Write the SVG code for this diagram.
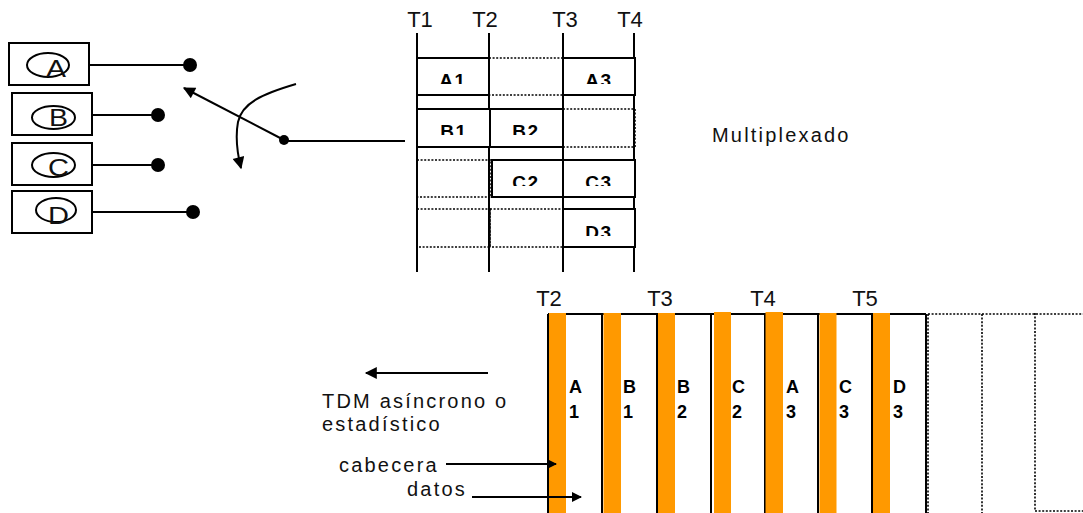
<svg xmlns="http://www.w3.org/2000/svg" width="1083" height="513" viewBox="0 0 1083 513">
<style>
.ln{stroke:#000;stroke-width:2;fill:none}
.dt{stroke:#000;stroke-width:1.6;fill:none;stroke-dasharray:2 1.6}
.bx{stroke:#000;stroke-width:2;fill:#fff}
.lbl{font-family:"Liberation Sans",Arial,sans-serif;font-size:20px;letter-spacing:2.2px;fill:#111}
.t{font-family:"Liberation Sans",Arial,sans-serif;font-size:22px;fill:#111;text-anchor:middle}
.big{font-family:"Liberation Sans",Arial,sans-serif;font-size:23px;fill:#111}
.cell{font-family:"Liberation Sans",Arial,sans-serif;font-size:19px;font-weight:bold;letter-spacing:1.5px;fill:#000;text-anchor:middle}
.slot{font-family:"Liberation Sans",Arial,sans-serif;font-size:18px;font-weight:bold;fill:#000}
.or{fill:#FF9900}
</style>
<defs>
<marker id="ah" viewBox="0 0 10 10" refX="9" refY="5" markerWidth="10" markerHeight="10" markerUnits="userSpaceOnUse" orient="auto"><path d="M0,0 L10,5 L0,10 z" fill="#000"/></marker>
<marker id="ahL" viewBox="0 0 10 10" refX="9" refY="5" markerWidth="16" markerHeight="12" markerUnits="userSpaceOnUse" orient="auto"><path d="M0,0 L10,5 L0,10 z" fill="#000"/></marker>
<clipPath id="cA"><rect x="417" y="58" width="220" height="26"/></clipPath>
<clipPath id="cB"><rect x="417" y="109" width="220" height="26"/></clipPath>
<clipPath id="cC"><rect x="417" y="160" width="220" height="26"/></clipPath>
<clipPath id="cD"><rect x="417" y="209" width="220" height="27"/></clipPath>
</defs>

<g id="source-A">
<rect class="bx" x="9" y="43" width="80" height="42"/>
<ellipse class="ln" cx="48" cy="65" rx="21" ry="12"/>
<text class="big" x="46" y="77" textLength="20" lengthAdjust="spacingAndGlyphs">A</text>
</g>
<g id="source-B">
<rect class="bx" x="12" y="93" width="80" height="42"/>
<ellipse class="ln" cx="53.5" cy="117.5" rx="21.5" ry="11.5"/>
<text class="big" x="49" y="126" textLength="19" lengthAdjust="spacingAndGlyphs">B</text>
</g>
<g id="source-C">
<rect class="bx" x="12" y="143" width="80" height="42"/>
<ellipse class="ln" cx="53.5" cy="165" rx="21.5" ry="12"/>
<text class="big" x="48" y="176" textLength="21" lengthAdjust="spacingAndGlyphs">C</text>
</g>
<g id="source-D">
<rect class="bx" x="12" y="191" width="80" height="42"/>
<ellipse class="ln" cx="56" cy="210" rx="20" ry="12"/>
<text class="big" x="48" y="224" textLength="21" lengthAdjust="spacingAndGlyphs">D</text>
</g>

<g id="switch">
<path class="ln" d="M89,65 H190 M92,115 H158 M92,165 H158 M92,212 H193"/>
<circle cx="190" cy="65" r="7"/>
<circle cx="158" cy="115" r="7"/>
<circle cx="158" cy="165" r="7"/>
<circle cx="193" cy="212" r="7"/>
<circle cx="284" cy="140" r="5"/>
</g>

<g id="sync-grid">
<text class="t" x="420" y="27">T1</text>
<text class="t" x="485" y="27">T2</text>
<text class="t" x="565" y="27">T3</text>
<text class="t" x="630" y="27">T4</text>
<path class="ln" d="M417,33 V272 M489,33 V272 M563,33 V272 M634,33 V272"/>
<rect class="bx" x="417" y="58" width="72" height="37"/>
<rect class="dt" x="489" y="58" width="74" height="37" fill="#fff"/>
<rect class="bx" x="563" y="58" width="72" height="37"/>
<rect class="bx" x="417" y="109" width="73" height="38"/>
<rect class="bx" x="490" y="109" width="73" height="38"/>
<rect class="dt" x="563" y="109" width="72" height="38" fill="#fff"/>
<rect class="dt" x="417" y="160" width="74" height="37" fill="#fff"/>
<rect class="bx" x="492" y="160" width="71" height="37"/>
<rect class="bx" x="563" y="160" width="72" height="37"/>
<rect class="dt" x="417" y="209" width="73" height="38" fill="#fff"/>
<rect class="dt" x="490" y="209" width="73" height="38" fill="#fff"/>
<rect class="bx" x="563" y="209" width="72" height="38"/>
<g clip-path="url(#cA)"><text class="cell" x="453" y="87">A1</text><text class="cell" x="599" y="87">A3</text></g>
<g clip-path="url(#cB)"><text class="cell" x="454" y="138">B1</text><text class="cell" x="526" y="138">B2</text></g>
<g clip-path="url(#cC)"><text class="cell" x="526" y="189">C2</text><text class="cell" x="599" y="189">C3</text></g>
<g clip-path="url(#cD)"><text class="cell" x="599" y="239">D3</text></g>
</g>

<g id="label-multiplexado">
<text class="lbl" x="712" y="142">Multiplexado</text>
</g>

<g id="async-frame">
<text class="t" x="549" y="306">T2</text>
<text class="t" x="660" y="306">T3</text>
<text class="t" x="763" y="306">T4</text>
<text class="t" x="865" y="306">T5</text>
<path class="ln" d="M548,314 H926"/>
<path class="ln" d="M548,314 V513 M602,314 V513 M657,314 V513 M711,314 V513 M765,314 V513 M818,314 V513 M872,314 V513 M926,314 V513"/>
<path class="dt" d="M928,314 H1083 M928,314 V513 M982,314 V513 M1035,313 V511 H1083"/>
<rect class="or" x="549" y="313" width="17" height="200"/>
<rect class="or" x="603.5" y="313" width="17.5" height="200"/>
<rect class="or" x="658" y="313" width="17" height="200"/>
<rect class="or" x="714" y="312" width="17" height="201"/>
<rect class="or" x="765.5" y="312" width="17.5" height="201"/>
<rect class="or" x="819.5" y="313" width="17" height="200"/>
<rect class="or" x="873" y="313" width="17" height="200"/>
<text class="slot" x="569" y="393">A</text><text class="slot" x="569" y="418">1</text>
<text class="slot" x="623" y="393">B</text><text class="slot" x="623" y="418">1</text>
<text class="slot" x="677" y="393">B</text><text class="slot" x="677" y="418">2</text>
<text class="slot" x="732" y="393">C</text><text class="slot" x="732" y="418">2</text>
<text class="slot" x="786" y="393">A</text><text class="slot" x="786" y="418">3</text>
<text class="slot" x="839" y="393">C</text><text class="slot" x="839" y="418">3</text>
<text class="slot" x="893" y="393">D</text><text class="slot" x="893" y="418">3</text>
</g>

<g id="labels">
<text class="lbl" x="322" y="408">TDM asíncrono o</text>
<text class="lbl" x="322" y="431">estadístico</text>
<text class="lbl" x="339" y="472">cabecera</text>
<text class="lbl" x="407" y="496">datos</text>
</g>

<g id="connectors">
<path class="ln" d="M284,141 H405"/>
<path class="ln" d="M284,140 L184,88" marker-end="url(#ahL)"/>
<path class="ln" d="M296,84 C262,94 242,103 238,122 C235,138 237,152 241,168" marker-end="url(#ahL)"/>
<path class="ln" d="M488,373 H366" marker-end="url(#ahL)"/>
<path class="ln" d="M446,464 H556" marker-end="url(#ah)"/>
<path class="ln" d="M472,497 H581" marker-end="url(#ah)"/>
</g>
</svg>
